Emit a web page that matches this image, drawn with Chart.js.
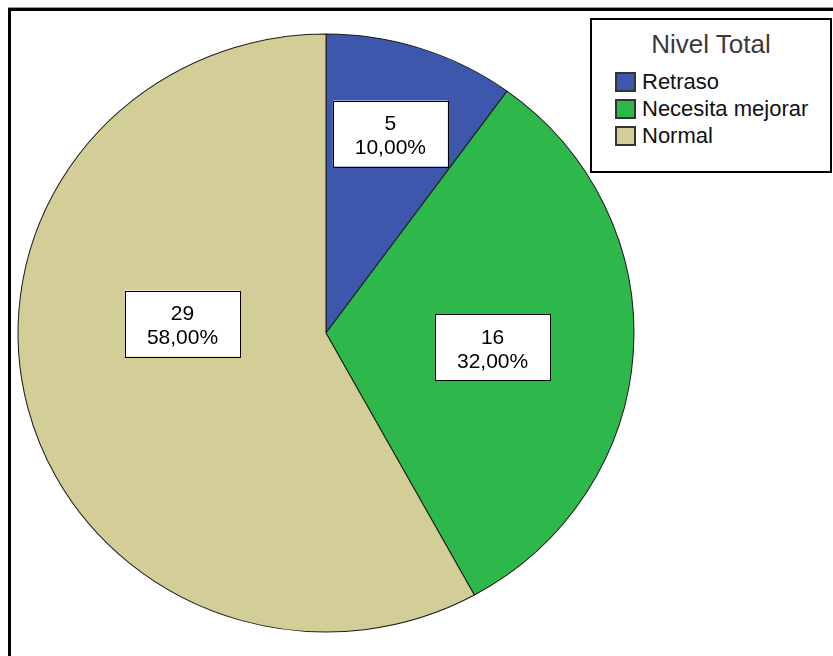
<!DOCTYPE html>
<html>
<head>
<meta charset="utf-8">
<script src="https://cdn.jsdelivr.net/npm/chart.js@4"></script>
<style>
  html, body { margin: 0; padding: 0; background: #fff; }
  #wrap { position: relative; width: 833px; height: 656px; overflow: hidden; }
  #frame {
    position: absolute; left: 8px; top: 8px; width: 900px; height: 700px;
    border-left: 3px solid #000; border-top: 3px solid #000;
    box-shadow: 0 -1px 0 #999;
  }
  #pie { position: absolute; left: 0; top: 0; }
  #legend {
    position: absolute; left: 590px; top: 18px; width: 238px; height: 151px;
    border: 2px solid #000; background: #fff;
    font-family: Arial, "Liberation Sans", sans-serif;
  }
  #legend .title {
    position: absolute; left: 0; right: 0; top: 9px; text-align: center;
    font-size: 26px; color: #3a3a3a; line-height: 30px;
  }
  #legend .item {
    position: absolute; left: 23px; height: 22px;
    font-size: 22px; line-height: 22px; color: #111; white-space: nowrap;
  }
  #legend .sw {
    display: inline-block; width: 17px; height: 16px; vertical-align: top;
    margin-top: 1px; margin-right: 6px; border: 2px solid #333;
  }
</style>
</head>
<body>
<div id="wrap">
  <div id="frame"></div>
  <canvas id="pie" width="833" height="656"></canvas>
  <div id="legend"><div class="title">Nivel Total</div></div>
</div>
<script>
// data
const LEGEND_TITLE = "Nivel Total";
const CATEGORIES = ["Retraso", "Necesita mejorar", "Normal"];
const COUNTS = [5, 16, 29];

const C = { blue: "#3D57AC", green: "#2EB84B", tan: "#D3CE97", edge: "#1c1c1c" };
const COLORS = [C.blue, C.green, C.tan];
const FONT = "Arial, 'Liberation Sans', sans-serif";

// SPSS squashes the pie a little: stretch x around the centre
const STRETCH_X = 1.03;
// where SPSS dropped each label box: fraction of radius, angle nudge (deg)
const LABEL_SPOT = [{ f: 0.699, da: -0.6 }, { f: 0.543, da: 1.35 }, { f: 0.467, da: 18.3 }];

function pctText(v) {
  const total = COUNTS.reduce((a, b) => a + b, 0);
  return (v / total * 100).toFixed(2).replace(".", ",") + "%";
}

/* ---------- stretch + label boxes ---------- */
const spssLook = {
  id: "spssLook",
  beforeDatasetsDraw(chart) {
    const arc = chart.getDatasetMeta(0).data[0];
    const ctx = chart.ctx;
    ctx.save();
    ctx.translate(arc.x, arc.y);
    ctx.scale(STRETCH_X, 1);
    ctx.translate(-arc.x, -arc.y);
  },
  afterDatasetsDraw(chart) {
    const ctx = chart.ctx;
    ctx.restore();
    const arcs = chart.getDatasetMeta(0).data;
    const bw = 115, bh = 66;
    ctx.save();
    ctx.font = "21px " + FONT;
    ctx.textAlign = "center";
    ctx.textBaseline = "middle";
    arcs.forEach((arc, i) => {
      const spot = LABEL_SPOT[i];
      const mid = (arc.startAngle + arc.endAngle) / 2 + spot.da * Math.PI / 180;
      const r = arc.outerRadius * spot.f;
      const cx = arc.x + Math.cos(mid) * r * STRETCH_X;
      const cy = arc.y + Math.sin(mid) * r;
      ctx.fillStyle = "#fff";
      ctx.fillRect(cx - bw / 2, cy - bh / 2, bw, bh);
      ctx.strokeStyle = "#000";
      ctx.lineWidth = 1;
      ctx.strokeRect(Math.round(cx - bw / 2) + 0.5, Math.round(cy - bh / 2) + 0.5, bw, bh);
      ctx.fillStyle = "#000";
      ctx.fillText(String(COUNTS[i]), cx, cy - 9);
      ctx.fillText(pctText(COUNTS[i]), cx, cy + 15);
    });
    ctx.restore();
  },
};

new Chart(document.getElementById("pie"), {
  type: "pie",
  data: {
    labels: CATEGORIES,
    datasets: [{
      data: COUNTS,
      backgroundColor: COLORS,
      borderColor: C.edge,
      borderWidth: 1,
    }],
  },
  options: {
    responsive: false,
    animation: false,
    radius: 299,
    layout: { padding: { left: 18, right: 199, top: 30, bottom: 20 } },
    plugins: { legend: { display: false }, tooltip: { enabled: false } },
  },
  plugins: [spssLook],
});

/* ---------- legend ---------- */
const legend = document.getElementById("legend");
legend.querySelector(".title").textContent = LEGEND_TITLE;
CATEGORIES.forEach((name, i) => {
  const row = document.createElement("div");
  row.className = "item";
  row.style.top = (51 + i * 27) + "px";
  row.innerHTML = `<span class="sw" style="background:${COLORS[i]}"></span>${name}`;
  legend.appendChild(row);
});
</script>
</body>
</html>
